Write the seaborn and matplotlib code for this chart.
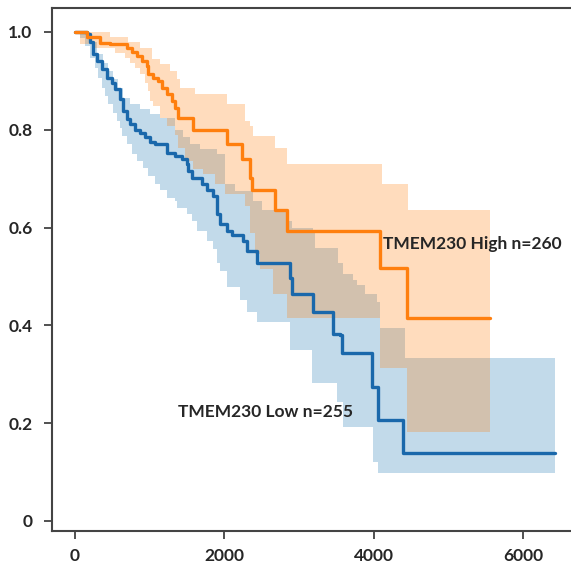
import numpy as np
import matplotlib
matplotlib.use('Agg')
import matplotlib.pyplot as plt
import seaborn as sns

# Kaplan-Meier steps (time in days, survival fraction)
high_t = [0, 160, 335, 470, 700, 760, 830, 900, 965, 980, 1045, 1110, 1165, 1230, 1300,
          1340, 1380, 1580, 2035, 2235, 2345, 2370, 2680, 2840, 4085, 4445, 5560]
high_s = [1.0, 0.99, 0.978, 0.975, 0.967, 0.96, 0.951, 0.94, 0.931, 0.914, 0.906, 0.90, 0.886,
          0.873, 0.859, 0.845, 0.824, 0.80, 0.771, 0.741, 0.702, 0.676, 0.635, 0.594, 0.518,
          0.416, 0.416]

high_up_t = [0, 470, 710, 870, 1030, 1140, 1270, 1365, 1405, 1610, 2035, 2280, 2345, 2385,
             2680, 2840, 4110, 4460, 5560]
high_up_s = [1.0, 0.99, 0.98, 0.967, 0.945, 0.935, 0.92, 0.904, 0.886, 0.873, 0.853, 0.818,
             0.808, 0.788, 0.763, 0.73, 0.69, 0.635, 0.635]

high_lo_t = [0, 70, 240, 535, 670, 735, 800, 870, 940, 980, 1000, 1045, 1140, 1230, 1340,
             1380, 1470, 1580, 1715, 1875, 2010, 2280, 2345, 2410, 2480, 2650, 2840, 4085,
             4445, 5560]
high_lo_s = [1.0, 0.975, 0.968, 0.957, 0.947, 0.937, 0.927, 0.914, 0.896, 0.88, 0.859, 0.849,
             0.824, 0.808, 0.79, 0.763, 0.737, 0.72, 0.71, 0.69, 0.669, 0.645, 0.588, 0.545,
             0.515, 0.465, 0.416, 0.312, 0.182, 0.182]

low_t = [0, 160, 200, 240, 295, 360, 430, 495, 535, 600, 645, 700, 735, 800, 870, 940, 1005,
         1070, 1230, 1340, 1435, 1500, 1515, 1565, 1700, 1770, 1850, 1900, 1940, 2035, 2100,
         2250, 2305, 2440, 2880, 2905, 3190, 3455, 3550, 3575, 3980, 4060, 4395, 6430]
low_s = [1.0, 0.995, 0.98, 0.955, 0.94, 0.924, 0.906, 0.896, 0.884, 0.863, 0.839, 0.822, 0.812,
         0.80, 0.794, 0.785, 0.776, 0.771, 0.753, 0.747, 0.741, 0.73, 0.716, 0.702, 0.69, 0.676,
         0.665, 0.628, 0.608, 0.594, 0.584, 0.573, 0.553, 0.527, 0.496, 0.465, 0.427, 0.383,
         0.38, 0.343, 0.274, 0.206, 0.139, 0.139]

low_up_t = [0, 200, 295, 375, 440, 510, 575, 645, 735, 870, 1005, 1140, 1340, 1445, 1540,
            1675, 1900, 2010, 2145, 2385, 2505, 2840, 2905, 3190, 3215, 3520, 3590, 3720, 3775,
            3885, 4045, 4085, 4420, 6430]
low_up_s = [1.0, 0.98, 0.955, 0.937, 0.92, 0.904, 0.886, 0.865, 0.853, 0.843, 0.833, 0.824,
            0.80, 0.785, 0.771, 0.76, 0.751, 0.69, 0.675, 0.655, 0.635, 0.614, 0.60, 0.588,
            0.559, 0.527, 0.506, 0.492, 0.482, 0.465, 0.447, 0.394, 0.333, 0.333]

low_lo_t = [0, 65, 135, 200, 270, 310, 360, 400, 440, 510, 560, 600, 630, 700, 765, 830, 910,
            980, 1070, 1140, 1230, 1340, 1365, 1500, 1565, 1635, 1770, 1850, 1900, 1940, 2035,
            2210, 2305, 2440, 2880, 3175, 3510, 3590, 3990, 4060, 6430]
low_lo_s = [1.0, 0.988, 0.971, 0.947, 0.927, 0.906, 0.886, 0.869, 0.853, 0.835, 0.818, 0.804,
            0.788, 0.771, 0.751, 0.737, 0.722, 0.706, 0.69, 0.676, 0.661, 0.655, 0.639, 0.628,
            0.614, 0.594, 0.573, 0.557, 0.527, 0.512, 0.478, 0.451, 0.427, 0.406, 0.35, 0.282,
            0.243, 0.192, 0.12, 0.098, 0.098]

labels = ['TMEM230 High n=260', 'TMEM230 Low n=255']
x_ticks = [0, 2000, 4000, 6000]
y_ticks = [0, 0.2, 0.4, 0.6, 0.8, 1.0]
y_tick_labels = ['0', '0.2', '0.4', '0.6', '0.8', '1.0']

orange = '#ff7f0e'
blue = '#1a68ab'


def step_on(t, s, grid):
    # value of a right-continuous step function at each grid time
    idx = np.searchsorted(t, grid, side='right') - 1
    return np.asarray(s)[idx]


sns.set_style('white')
plt.rcParams['font.family'] = ['Lato', 'DejaVu Sans']

fig = plt.figure(figsize=(5.71, 5.67), dpi=100)
ax = fig.add_axes([52 / 571, 36 / 567, 519 / 571, 523 / 567])

# confidence bands, blue first so the overlap turns tan
grid_low = np.union1d(low_up_t, low_lo_t)
ax.fill_between(grid_low, step_on(low_lo_t, low_lo_s, grid_low),
                step_on(low_up_t, low_up_s, grid_low),
                step='post', color='#1f77b4', alpha=0.27, lw=0)
grid_high = np.union1d(high_up_t, high_lo_t)
ax.fill_between(grid_high, step_on(high_lo_t, high_lo_s, grid_high),
                step='post', y2=step_on(high_up_t, high_up_s, grid_high),
                color=orange, alpha=0.27, lw=0)

sns.lineplot(x=low_t, y=low_s, ax=ax, drawstyle='steps-post', color=blue,
             lw=2.4, estimator=None, sort=False)
sns.lineplot(x=high_t, y=high_s, ax=ax, drawstyle='steps-post', color=orange,
             lw=2.4, estimator=None, sort=False)

ax.text(4120, 0.567, labels[0], fontsize=12.5, fontweight='bold', va='center', ha='left')
ax.text(1380, 0.222, labels[1], fontsize=12.5, fontweight='bold', va='center', ha='left')

ax.set_xlim(-308, 6643)
ax.set_ylim(-0.0205, 1.049)
ax.set_xticks(x_ticks)
ax.set_xticklabels([str(v) for v in x_ticks])
ax.set_yticks(y_ticks)
ax.set_yticklabels(y_tick_labels)
ax.tick_params(axis='both', which='major', length=6, width=1.2, color='#333333',
               labelsize=12.5, direction='out', bottom=True, left=True)
ax.tick_params(axis='y', pad=8)
ax.tick_params(axis='x', pad=6)
for lab in ax.get_xticklabels() + ax.get_yticklabels():
    lab.set_fontweight('bold')

for side in ['left', 'bottom', 'top']:
    ax.spines[side].set_color('#444444')
    ax.spines[side].set_linewidth(1.5)
ax.spines['right'].set_visible(False)
ax.set_xlabel('')
ax.set_ylabel('')

fig.savefig('out.png', dpi=100)
